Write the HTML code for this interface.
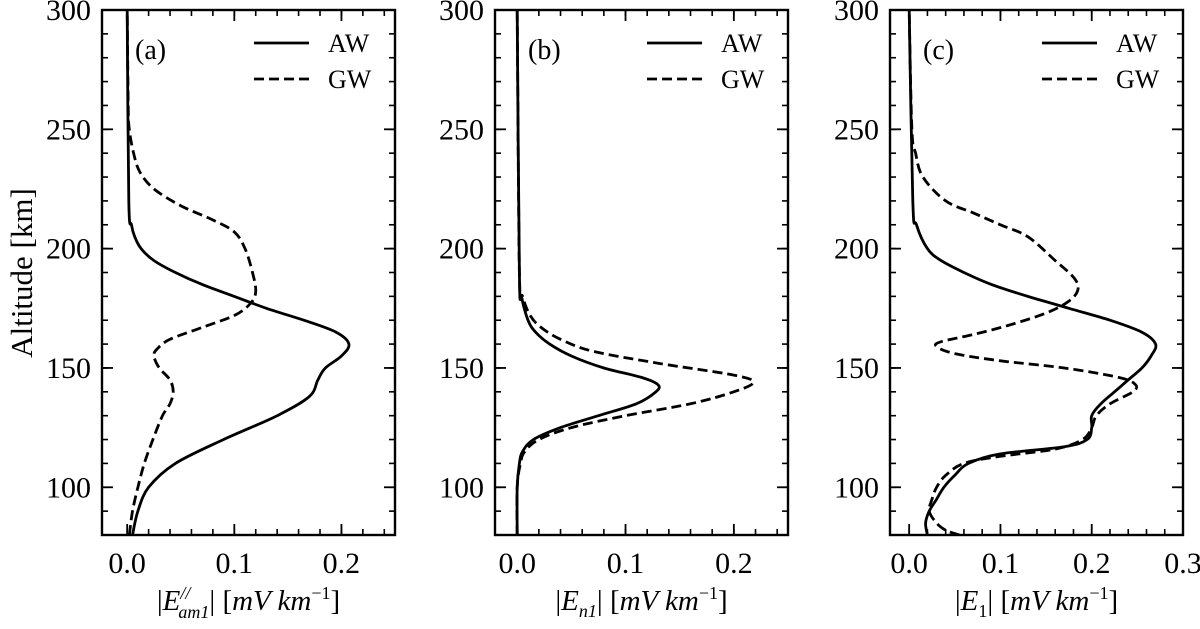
<!DOCTYPE html>
<html><head><meta charset="utf-8"><style>
body{margin:0;background:#fff;}
svg text{font-family:"Liberation Serif",serif;fill:#000;}
</style></head><body>
<svg id="c" width="1200" height="624" xmlns="http://www.w3.org/2000/svg"></svg>
<script>
const altA_AW=[80,90,100,110,120,130,138,145,150,155,160,165,170,175,180,185,190,195,200,205,210,220,300];
const valA_AW=[0.005,0.01,0.02,0.045,0.09,0.14,0.17,0.178,0.185,0.2,0.207,0.195,0.165,0.13,0.1,0.07,0.045,0.025,0.013,0.007,0.004,0.0015,0];
const altA_GW=[80,90,100,110,120,130,135,140,145,150,155,158,162,167,172,177,182,190,200,207,212,218,225,232,240,250,260,300];
const valA_GW=[0.002,0.005,0.01,0.016,0.024,0.033,0.04,0.043,0.04,0.03,0.025,0.028,0.04,0.07,0.1,0.115,0.12,0.117,0.11,0.1,0.08,0.05,0.025,0.012,0.006,0.002,0.001,0];
const altB_AW=[80,100,110,115,120,125,130,135,140,143,146,150,155,160,165,170,180,190,300];
const valB_AW=[0,0,0.002,0.005,0.015,0.04,0.075,0.11,0.128,0.13,0.115,0.08,0.05,0.03,0.017,0.01,0.004,0.002,0];
const altB_GW=[80,100,110,115,120,125,130,135,140,144,147,152,157,162,167,172,180,190,300];
const valB_GW=[0,0,0.003,0.007,0.02,0.05,0.1,0.16,0.2,0.218,0.2,0.13,0.07,0.04,0.022,0.012,0.005,0.002,0];
const altC_AW=[80,85,90,95,100,105,110,114,117,120,125,130,135,140,145,150,155,160,165,170,175,180,185,190,195,200,210,220,300];
const valC_AW=[0.02,0.018,0.022,0.03,0.038,0.05,0.065,0.1,0.17,0.195,0.2,0.2,0.21,0.225,0.24,0.255,0.265,0.27,0.255,0.22,0.175,0.13,0.09,0.06,0.035,0.02,0.008,0.004,0];
const altC_GW=[80,82,85,90,95,100,105,110,113,116,120,125,130,135,140,143,146,150,153,156,159,161,164,168,173,178,183,188,195,205,210,215,220,230,240,250,300];
const valC_GW=[0.055,0.04,0.03,0.022,0.025,0.03,0.04,0.06,0.1,0.16,0.19,0.2,0.205,0.22,0.245,0.248,0.23,0.17,0.1,0.05,0.03,0.035,0.07,0.11,0.15,0.175,0.185,0.18,0.16,0.13,0.1,0.07,0.04,0.015,0.007,0.003,0];
const yTicks=[100,150,200,250,300];
const xTicksAB=["0.0","0.1","0.2"];
const xTicksC=["0.0","0.1","0.2","0.3"];
const panels=[
 {name:'a',x0:102,x1:395,xmin:-0.0235,xmax:0.25,ticks:xTicksAB,alts:[altA_AW,altA_GW],vals:[valA_AW,valA_GW],label:'|<tspan font-style="italic">E</tspan><tspan font-style="italic" dy="-11" font-size="18">//</tspan><tspan font-style="italic" dy="19" dx="-12" font-size="18">am1</tspan><tspan dy="-8">| [</tspan><tspan font-style="italic">mV km</tspan><tspan dy="-11" font-size="18">−1</tspan><tspan dy="11">]</tspan>'},
 {name:'b',x0:495,x1:788,xmin:-0.0205,xmax:0.25,ticks:xTicksAB,alts:[altB_AW,altB_GW],vals:[valB_AW,valB_GW],label:'|<tspan font-style="italic">E</tspan><tspan font-style="italic" dy="7" font-size="18">n1</tspan><tspan dy="-7">| [</tspan><tspan font-style="italic">mV km</tspan><tspan dy="-11" font-size="18">−1</tspan><tspan dy="11">]</tspan>'},
 {name:'c',x0:890,x1:1183,xmin:-0.021,xmax:0.3,ticks:xTicksC,alts:[altC_AW,altC_GW],vals:[valC_AW,valC_GW],label:'|<tspan font-style="italic">E</tspan><tspan dy="7" font-size="18">1</tspan><tspan dy="-7">| [</tspan><tspan font-style="italic">mV km</tspan><tspan dy="-11" font-size="18">−1</tspan><tspan dy="11">]</tspan>'}
];
const Y0=10,Y1=535,ymin=80,ymax=300;
const yS=v=>Y0+(ymax-v)/(ymax-ymin)*(Y1-Y0);
const svg=document.getElementById('c');
const NS='http://www.w3.org/2000/svg';
function mk(tag,attrs,parent){const e=document.createElementNS(NS,tag);for(const k in attrs)e.setAttribute(k,attrs[k]);(parent||svg).appendChild(e);return e;}
function smooth(pts){
 let d='M'+pts[0][0].toFixed(1)+','+pts[0][1].toFixed(1);
 for(let i=0;i<pts.length-1;i++){
  const p0=pts[Math.max(0,i-1)],p1=pts[i],p2=pts[i+1],p3=pts[Math.min(pts.length-1,i+2)];
  const c1=[p1[0]+(p2[0]-p0[0])/6,p1[1]+(p2[1]-p0[1])/6];
  const c2=[p2[0]-(p3[0]-p1[0])/6,p2[1]-(p3[1]-p1[1])/6];
  d+=' C'+c1[0].toFixed(1)+','+c1[1].toFixed(1)+' '+c2[0].toFixed(1)+','+c2[1].toFixed(1)+' '+p2[0].toFixed(1)+','+p2[1].toFixed(1);
 }
 return d;
}
panels.forEach(p=>{
 const xS=v=>p.x0+(v-p.xmin)/(p.xmax-p.xmin)*(p.x1-p.x0);
 const g=mk('g',{});
 
 
 const clip=mk('clipPath',{id:'cl'+p.name},g);
 mk('rect',{x:p.x0,y:Y0,width:p.x1-p.x0,height:Y1-Y0},clip);
 for(let v=0;v<=p.xmax+1e-9;v+=0.02){const x=xS(v);
  mk('line',{x1:x,x2:x,y1:Y1,y2:Y1-6,stroke:'#000','stroke-width':1.6},g);
  mk('line',{x1:x,x2:x,y1:Y0,y2:Y0+6,stroke:'#000','stroke-width':1.6},g);}
 p.ticks.forEach(t=>{const x=xS(parseFloat(t));
  mk('line',{x1:x,x2:x,y1:Y1,y2:Y1-11,stroke:'#000','stroke-width':1.8},g);
  mk('line',{x1:x,x2:x,y1:Y0,y2:Y0+11,stroke:'#000','stroke-width':1.8},g);
  const tx=mk('text',{x:x,y:Y1+38,'text-anchor':'middle','font-size':30},g);tx.textContent=t;
  
  });
 for(let v=80;v<=300;v+=10){const y=yS(v);
  mk('line',{x1:p.x0,x2:p.x0+6,y1:y,y2:y,stroke:'#000','stroke-width':1.6},g);
  mk('line',{x1:p.x1,x2:p.x1-6,y1:y,y2:y,stroke:'#000','stroke-width':1.6},g);}
 yTicks.forEach(v=>{const y=yS(v);
  mk('line',{x1:p.x0,x2:p.x0+11,y1:y,y2:y,stroke:'#000','stroke-width':1.8},g);
  mk('line',{x1:p.x1,x2:p.x1-11,y1:y,y2:y,stroke:'#000','stroke-width':1.8},g);
  const tx=mk('text',{x:p.x0-11,y:y+10,'text-anchor':'end','font-size':30},g);tx.textContent=v;
  
  });
 p.alts.forEach((al,i)=>{
  const pts=al.map((a,j)=>[xS(p.vals[i][j]),yS(a)]);
  const pa=mk('path',{d:smooth(pts),fill:'none',stroke:'#000','stroke-width':2.8,'stroke-linejoin':'round','clip-path':'url(#cl'+p.name+')'},g);
  if(i===1)pa.setAttribute('stroke-dasharray','10,5');
  
  
 });
 const fr=mk('rect',{x:p.x0,y:Y0,width:p.x1-p.x0,height:Y1-Y0,fill:'none',stroke:'#000','stroke-width':2.4},g);
 
 
 const pl=mk('text',{x:p.x0+33,y:59,'font-size':28},g);pl.textContent='('+p.name+')';
 
 
 const lg=mk('g',{},g);
 
 
 mk('line',{x1:p.x0+152,x2:p.x0+207,y1:43,y2:43,stroke:'#000','stroke-width':2.8},lg);
 mk('line',{x1:p.x0+152,x2:p.x0+207,y1:79,y2:79,stroke:'#000','stroke-width':2.8,'stroke-dasharray':'10,5'},lg);
 const t1=mk('text',{x:p.x0+226,y:52,'font-size':26},lg);t1.textContent='AW';
 const t2=mk('text',{x:p.x0+226,y:88,'font-size':26},lg);t2.textContent='GW';
 const xl=mk('text',{x:(p.x0+p.x1)/2,y:610,'text-anchor':'middle','font-size':29},g);xl.innerHTML=p.label;
 
 
});
const yl=mk('text',{x:0,y:0,'text-anchor':'middle','font-size':31,transform:'translate(32,273) rotate(-90)'});
yl.textContent='Altitude [km]';


</script>
</body></html>
